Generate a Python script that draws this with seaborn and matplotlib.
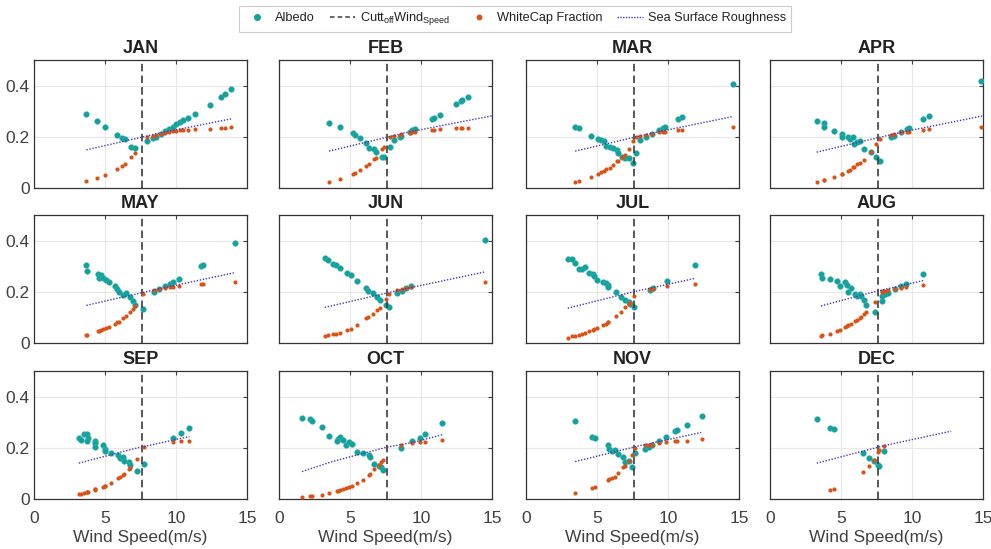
import numpy as np
import pandas as pd
import matplotlib
matplotlib.use("Agg")
import matplotlib.pyplot as plt
from matplotlib.lines import Line2D
import seaborn as sns

nan = np.nan
months = ["JAN", "FEB", "MAR", "APR", "MAY", "JUN",
          "JUL", "AUG", "SEP", "OCT", "NOV", "DEC"]
cutoff_wind_speed = 7.6
x_ticks = [0, 5, 10, 15]
y_ticks = [0, 0.2, 0.4]
y_tick_labels = ["0", "0.2", "0.4"]

wind_speed = {
    "JAN": [3.69, 4.46, 5.0, 5.87, 6.2, 6.38, 6.85, 7.09, 7.96, 8.38, 8.6, 8.92, 9.2, 9.5, 9.79, 10.02, 10.26, 10.49, 10.87, 11.31, 12.37, 13.15, 13.47, 13.9],
    "FEB": [3.52, 4.32, 5.21, 5.33, 5.68, 6.1, 6.31, 6.71, 6.81, 7.28, 7.37, 7.79, 8.08, 8.5, 8.59, 9.2, 9.39, 9.6, 10.8, 10.89, 11.31, 12.49, 12.79, 12.91, 13.31],
    "MAR": [3.46, 3.76, 4.56, 5.05, 5.31, 5.48, 5.64, 5.9, 6.14, 6.44, 6.51, 6.77, 6.96, 7.24, 7.57, 7.76, 8.04, 8.46, 8.84, 9.36, 9.64, 9.78, 10.72, 10.96, 14.55],
    "APR": [3.29, 3.78, 3.82, 4.48, 5.05, 5.09, 5.49, 5.61, 5.87, 5.91, 6.15, 6.34, 6.6, 7.09, 7.49, 7.72, 8.5, 8.73, 9.2, 9.67, 9.77, 10.77, 11.17, 14.88],
    "MAY": [3.67, 3.71, 4.53, 4.74, 4.57, 4.88, 5.05, 5.26, 5.68, 5.85, 5.99, 6.27, 6.5, 6.78, 6.97, 7.09, 7.67, 8.45, 8.8, 9.2, 9.55, 9.79, 10.19, 11.76, 11.9, 14.17],
    "JUN": [3.22, 3.45, 3.8, 4.04, 4.32, 4.79, 5.05, 5.52, 6.15, 6.29, 6.62, 6.9, 7.09, 7.51, 7.72, 8.31, 8.69, 8.97, 9.32, 14.48],
    "JUL": [2.94, 3.24, 3.43, 3.76, 3.95, 4.14, 4.47, 4.7, 4.8, 4.98, 5.41, 5.6, 5.76, 5.8, 6.35, 6.72, 7.0, 7.24, 7.29, 7.59, 8.75, 8.93, 9.95, 11.87],
    "AUG": [3.59, 3.69, 4.2, 4.69, 4.93, 5.26, 5.4, 5.49, 5.73, 5.96, 6.13, 6.31, 6.43, 6.6, 6.78, 7.39, 7.87, 7.91, 8.08, 8.31, 8.78, 9.25, 9.6, 10.8],
    "SEP": [3.16, 3.33, 3.49, 3.75, 3.8, 3.73, 4.27, 4.31, 4.33, 4.85, 5.02, 4.97, 5.44, 5.95, 6.07, 6.28, 6.32, 6.71, 6.75, 7.24, 7.78, 9.77, 10.36, 10.95],
    "OCT": [1.62, 2.21, 2.32, 3.03, 3.52, 4.15, 4.27, 4.08, 4.51, 4.69, 4.9, 5.12, 5.49, 5.92, 6.31, 6.43, 6.69, 7.04, 7.21, 7.32, 8.62, 9.39, 9.91, 10.31, 11.5],
    "NOV": [3.46, 4.66, 4.84, 5.76, 5.88, 6.07, 6.25, 6.49, 6.84, 6.96, 7.24, 7.43, 7.71, 8.35, 8.65, 8.89, 9.4, 9.87, 10.46, 10.6, 11.36, 12.37],
    "DEC": [3.29, 4.26, 4.49, 6.58, 6.96, 7.29, 7.59, 7.71, 8.06],
}

albedo = {
    "JAN": [0.290, 0.262, 0.240, 0.206, 0.197, 0.190, 0.160, 0.156, 0.184, 0.195, 0.201, 0.210, 0.221, 0.230, 0.240, 0.249, 0.256, 0.264, 0.274, 0.288, 0.325, 0.355, 0.366, 0.385],
    "FEB": [0.255, 0.240, 0.214, 0.206, 0.197, 0.175, 0.158, 0.151, 0.142, 0.123, 0.123, 0.160, 0.187, 0.199, 0.204, 0.218, 0.225, 0.231, 0.269, 0.273, 0.286, 0.329, 0.339, 0.343, 0.357],
    "MAR": [0.240, 0.235, 0.204, 0.191, 0.186, 0.184, 0.166, 0.161, 0.157, 0.149, 0.136, 0.123, 0.119, 0.117, 0.097, 0.138, 0.187, 0.199, 0.210, 0.227, 0.235, 0.238, 0.269, 0.277, 0.408],
    "APR": [0.262, 0.255, 0.238, 0.221, 0.210, 0.201, 0.200, 0.191, 0.200, 0.173, 0.181, 0.184, 0.152, 0.139, 0.122, 0.106, 0.199, 0.204, 0.219, 0.232, 0.236, 0.269, 0.282, 0.419],
    "MAY": [0.305, 0.282, 0.270, 0.264, 0.253, 0.253, 0.247, 0.240, 0.223, 0.210, 0.201, 0.186, 0.197, 0.181, 0.166, 0.149, 0.132, 0.199, 0.210, 0.221, 0.231, 0.238, 0.249, 0.301, 0.305, 0.392],
    "JUN": [0.331, 0.323, 0.310, 0.303, 0.292, 0.275, 0.265, 0.244, 0.213, 0.205, 0.195, 0.179, 0.169, 0.149, 0.140, 0.194, 0.205, 0.213, 0.221, 0.403],
    "JUL": [0.327, 0.327, 0.314, 0.291, 0.290, 0.296, 0.275, 0.270, 0.260, 0.247, 0.239, 0.234, 0.227, 0.218, 0.201, 0.179, 0.169, 0.162, 0.153, 0.139, 0.208, 0.213, 0.244, 0.306],
    "AUG": [0.268, 0.255, 0.249, 0.244, 0.223, 0.238, 0.227, 0.201, 0.214, 0.192, 0.184, 0.192, 0.182, 0.169, 0.149, 0.123, 0.165, 0.182, 0.190, 0.195, 0.210, 0.221, 0.231, 0.270],
    "SEP": [0.238, 0.231, 0.252, 0.252, 0.238, 0.225, 0.226, 0.218, 0.205, 0.212, 0.196, 0.187, 0.180, 0.170, 0.161, 0.163, 0.150, 0.146, 0.133, 0.111, 0.137, 0.239, 0.257, 0.278],
    "OCT": [0.317, 0.311, 0.304, 0.281, 0.248, 0.235, 0.244, 0.228, 0.231, 0.212, 0.222, 0.215, 0.184, 0.178, 0.172, 0.166, 0.136, 0.128, 0.124, 0.115, 0.201, 0.226, 0.240, 0.255, 0.295],
    "NOV": [0.303, 0.244, 0.240, 0.211, 0.196, 0.189, 0.191, 0.175, 0.163, 0.143, 0.147, 0.124, 0.178, 0.196, 0.205, 0.212, 0.228, 0.242, 0.264, 0.268, 0.291, 0.326],
    "DEC": [0.313, 0.278, 0.272, 0.180, 0.161, 0.150, 0.131, 0.128, 0.189],
}

whitecap = {
    "JAN": [0.026, 0.039, 0.049, 0.075, 0.087, 0.095, 0.123, 0.136, 0.201, 0.205, 0.208, 0.212, 0.216, 0.219, 0.222, 0.223, 0.225, 0.225, 0.226, 0.229, 0.232, 0.236, 0.236, 0.238],
    "FEB": [0.023, 0.036, 0.055, 0.057, 0.069, 0.084, 0.092, 0.112, 0.118, 0.152, 0.161, 0.201, 0.204, 0.208, 0.210, 0.214, 0.217, 0.218, 0.227, 0.227, 0.229, 0.234, 0.235, 0.235, 0.236],
    "MAR": [0.023, 0.027, 0.043, 0.053, 0.061, 0.065, 0.073, 0.079, 0.090, 0.104, 0.107, 0.121, 0.130, 0.153, 0.182, 0.201, 0.204, 0.208, 0.212, 0.217, 0.218, 0.219, 0.226, 0.227, 0.240],
    "APR": [0.022, 0.030, 0.031, 0.042, 0.055, 0.056, 0.068, 0.072, 0.082, 0.083, 0.092, 0.097, 0.110, 0.140, 0.171, 0.192, 0.208, 0.211, 0.217, 0.219, 0.220, 0.226, 0.229, 0.240],
    "MAY": [0.030, 0.030, 0.045, 0.049, 0.046, 0.055, 0.058, 0.064, 0.075, 0.081, 0.083, 0.097, 0.106, 0.123, 0.134, 0.143, 0.191, 0.208, 0.212, 0.216, 0.217, 0.218, 0.221, 0.230, 0.231, 0.239],
    "JUN": [0.026, 0.030, 0.034, 0.036, 0.040, 0.052, 0.056, 0.071, 0.096, 0.101, 0.113, 0.127, 0.136, 0.173, 0.191, 0.208, 0.212, 0.214, 0.217, 0.240],
    "JUL": [0.021, 0.026, 0.029, 0.032, 0.035, 0.039, 0.045, 0.052, 0.054, 0.058, 0.070, 0.075, 0.081, 0.083, 0.104, 0.122, 0.140, 0.153, 0.156, 0.182, 0.210, 0.212, 0.221, 0.231],
    "AUG": [0.029, 0.030, 0.036, 0.047, 0.052, 0.061, 0.065, 0.069, 0.075, 0.084, 0.091, 0.097, 0.103, 0.112, 0.122, 0.162, 0.201, 0.203, 0.205, 0.208, 0.212, 0.214, 0.218, 0.225],
    "SEP": [0.020, 0.021, 0.023, 0.027, 0.028, 0.027, 0.037, 0.038, 0.038, 0.048, 0.052, 0.051, 0.064, 0.082, 0.086, 0.095, 0.096, 0.117, 0.120, 0.155, 0.202, 0.222, 0.225, 0.228],
    "OCT": [0.007, 0.010, 0.011, 0.017, 0.023, 0.033, 0.035, 0.032, 0.039, 0.042, 0.046, 0.050, 0.064, 0.074, 0.094, 0.099, 0.117, 0.131, 0.144, 0.154, 0.209, 0.218, 0.222, 0.223, 0.231],
    "NOV": [0.023, 0.044, 0.047, 0.073, 0.077, 0.082, 0.087, 0.100, 0.124, 0.127, 0.150, 0.172, 0.201, 0.209, 0.210, 0.211, 0.219, 0.223, 0.226, 0.226, 0.228, 0.234],
    "DEC": [nan, 0.035, 0.039, 0.107, 0.130, 0.154, 0.183, 0.193, 0.206],
}

roughness_ws = {
    "JAN": [3.69, 8.8, 13.97],
    "FEB": [3.52, 9.0, 15.0],
    "MAR": [3.46, 9.0, 14.55],
    "APR": [3.29, 9.1, 15.0],
    "MAY": [3.69, 9.0, 14.17],
    "JUN": [3.22, 8.9, 14.53],
    "JUL": [2.94, 7.4, 11.87],
    "AUG": [3.59, 7.2, 10.8],
    "SEP": [3.16, 7.0, 10.95],
    "OCT": [1.62, 3.57, 5.56, 7.56, 9.67, 11.5],
    "NOV": [3.46, 7.9, 12.34],
    "DEC": [3.29, 8.0, 12.76],
}
roughness = {
    "JAN": [0.149, 0.214, 0.271],
    "FEB": [0.144, 0.217, 0.282],
    "MAR": [0.144, 0.216, 0.279],
    "APR": [0.140, 0.216, 0.282],
    "MAY": [0.147, 0.214, 0.275],
    "JUN": [0.139, 0.212, 0.278],
    "JUL": [0.136, 0.198, 0.252],
    "AUG": [0.145, 0.198, 0.244],
    "SEP": [0.140, 0.196, 0.244],
    "OCT": [0.107, 0.143, 0.173, 0.202, 0.224, 0.251],
    "NOV": [0.146, 0.207, 0.260],
    "DEC": [0.140, 0.208, 0.265],
}

TEAL = "#14a09b"
ORANGE = "#d95319"
ROUGH = "#4338b0"
CUT = "#3c3c3c"
TXT = "#404040"

sns.set_theme(style="white")
plt.rcParams["font.family"] = ["Liberation Sans", "DejaVu Sans"]
plt.rcParams["mathtext.fontset"] = "custom"
plt.rcParams["mathtext.rm"] = "Liberation Sans"
plt.rcParams["mathtext.it"] = "Liberation Sans:italic"
plt.rcParams["mathtext.default"] = "regular"

fig = plt.figure(figsize=(9.91, 5.49), dpi=100)
FW, FH = 991, 549
lefts = [34, 279, 526, 770]
tops = [60, 215, 371]
W, H = 213, 128

for i, m in enumerate(months):
    r, c = divmod(i, 4)
    ax = fig.add_axes([lefts[c] / FW, 1 - (tops[r] + H) / FH, W / FW, H / FH])
    df = pd.DataFrame({"ws": wind_speed[m], "albedo": albedo[m], "whitecap": whitecap[m]})
    rough_df = pd.DataFrame({"ws": roughness_ws[m], "rough": roughness[m]})

    ax.grid(True, color="#e8e8e8", lw=0.8)
    ax.set_axisbelow(True)

    sns.scatterplot(data=df, x="ws", y="albedo", ax=ax, color=TEAL, s=17,
                    linewidth=0.3, edgecolor="#3fb7b2", zorder=3)
    ax.axvline(cutoff_wind_speed, color=CUT, ls=(0, (4.5, 2.5)), lw=1.2, zorder=4)
    sns.scatterplot(data=df, x="ws", y="whitecap", ax=ax, color=ORANGE, s=9,
                    linewidth=0, zorder=5)
    sns.lineplot(data=rough_df, x="ws", y="rough", ax=ax, color=ROUGH, lw=1.0,
                 linestyle=(0, (1, 1.2)), estimator=None, zorder=6)

    ax.set_xlim(0, 15)
    ax.set_ylim(0, 0.5)
    ax.set_xticks(x_ticks)
    ax.set_yticks(y_ticks)
    ax.set_title(m, fontsize=13, fontweight="bold", color="#222222", pad=5)
    ax.tick_params(direction="in", length=3, width=0.8, top=True, right=True,
                   colors=TXT, labelsize=12.5)
    ax.tick_params(axis="x", pad=8.5)
    ax.tick_params(axis="y", pad=3)
    if c == 0:
        ax.set_yticklabels(y_tick_labels)
    else:
        ax.set_yticklabels([])
    if r == 2:
        ax.set_xticklabels([str(t) for t in x_ticks])
        ax.set_xlabel("Wind Speed(m/s)", fontsize=12.5, color=TXT, labelpad=3)
    else:
        ax.set_xticklabels([])
        ax.set_xlabel("")
    ax.set_ylabel("")
    for sp in ax.spines.values():
        sp.set_color("#333333")
        sp.set_linewidth(0.9)

handles = [
    Line2D([], [], marker="o", ls="none", color=TEAL, markersize=4),
    Line2D([], [], ls=(0, (3, 2)), color=CUT, lw=1.1),
    Line2D([], [], marker="o", ls="none", color=ORANGE, markersize=3.2),
    Line2D([], [], ls=(0, (1, 1)), color=ROUGH, lw=1.0),
]
labels = ["Albedo", r"Cutt$_{off}$Wind$_{Speed}$", "WhiteCap Fraction", "Sea Surface Roughness"]
leg = fig.legend(handles, labels, loc="center", bbox_to_anchor=(515 / FW, 1 - 19 / FH),
                 ncol=4, frameon=True, fancybox=False, fontsize=9.2,
                 handlelength=2.0, handletextpad=0.4, columnspacing=1.2,
                 borderpad=0.35, edgecolor="#c0c0c0")
leg.get_frame().set_linewidth(0.8)
for t in leg.get_texts():
    t.set_color("#222222")

fig.savefig("out.png", dpi=100, facecolor="white")
